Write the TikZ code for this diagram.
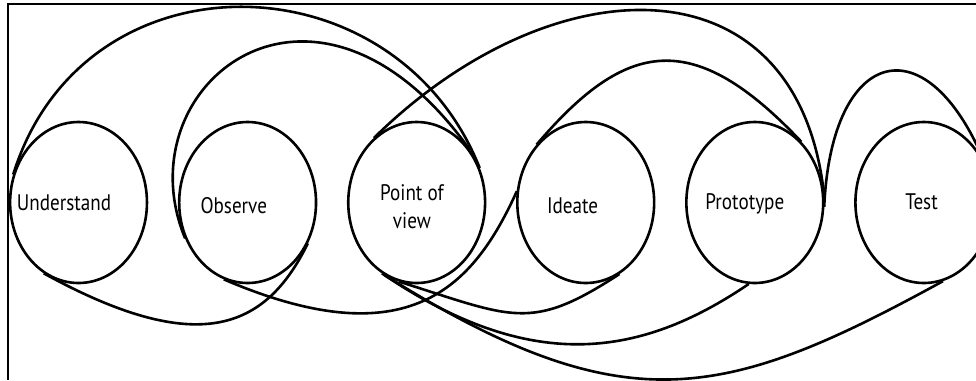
\documentclass[tikz,border=0pt]{standalone}
\usepackage{fontspec}
\newfontfamily\stagefont{PT Sans}
\usetikzlibrary{positioning}

\begin{document}
\begin{tikzpicture}[
  x=1pt,y=1pt,xscale=0.85,transform shape,
  node distance=35.3pt,
  stage/.style={draw,circle,line width=2.6pt,minimum size=161pt,inner sep=0pt},
  lbl/.style={font=\stagefont\fontsize{22.5}{28}\selectfont,align=center,anchor=base,inner sep=0pt},
  link/.style={line width=2.6pt},
  frameline/.style={line width=1.3pt}
]
\clip (0,0) rectangle (1148.2,-380);
\node[stage] (und) at (92.4,-202.5) {};
\node[stage,right=of und] (obs) {};
\node[stage,right=of obs] (pov) {};
\node[stage,right=of pov] (ide) {};
\node[stage,right=of ide] (pro) {};
\node[stage,right=of pro] (tst) {};
\node[lbl] (und-t) at ([shift={(-17,-7.5)}]und.center) {Understand};
\node[lbl] (obs-t) at ([shift={(-16.3,-10.5)}]obs.center) {Observe};
\node[lbl] (pov-t) at ([shift={(-5.6,-25.5)}]pov.center) {Point of\\view};
\node[lbl] (ide-t) at ([shift={(-15.4,-10.5)}]ide.center) {Ideate};
\node[lbl] (pro-t) at ([shift={(-11.7,-6.5)}]pro.center) {Prototype};
\node[lbl] (tst-t) at ([shift={(-2.7,-6.5)}]tst.center) {Test};
\draw[frameline] (9.4,-380) |- (1148.2,-4);
\draw[link] (und.160) .. controls +(70:240) and +(115:235) .. (pov.25);
\draw[link] (obs.206) .. controls +(116:170) and +(130:285) .. (pov.40);
\draw[link] (pov.128) .. controls +(40:270) and +(98:240) .. (pro.8);
\draw[link] (ide.135) .. controls +(45:150) and +(138:170) .. (pro.48);
\draw[link] (pro.-3) .. controls +(87:162) and +(115:162) .. (tst.25);
\draw[link] (und.240) .. controls +(-25:200) and +(-120:100) .. (obs.-30);
\draw[link] (obs.250) .. controls +(-20:230) and +(-118:110) .. (ide.172);
\draw[link] (pov.255) .. controls +(-15:140) and +(-151:120) .. (ide.-61);
\draw[link] (pov.240) .. controls +(-30:200) and +(-150:150) .. (pro.265);
\draw[link] (pov.242) .. controls +(-28:320) and +(-155:285) .. (tst.-74);
\end{tikzpicture}
\end{document}
